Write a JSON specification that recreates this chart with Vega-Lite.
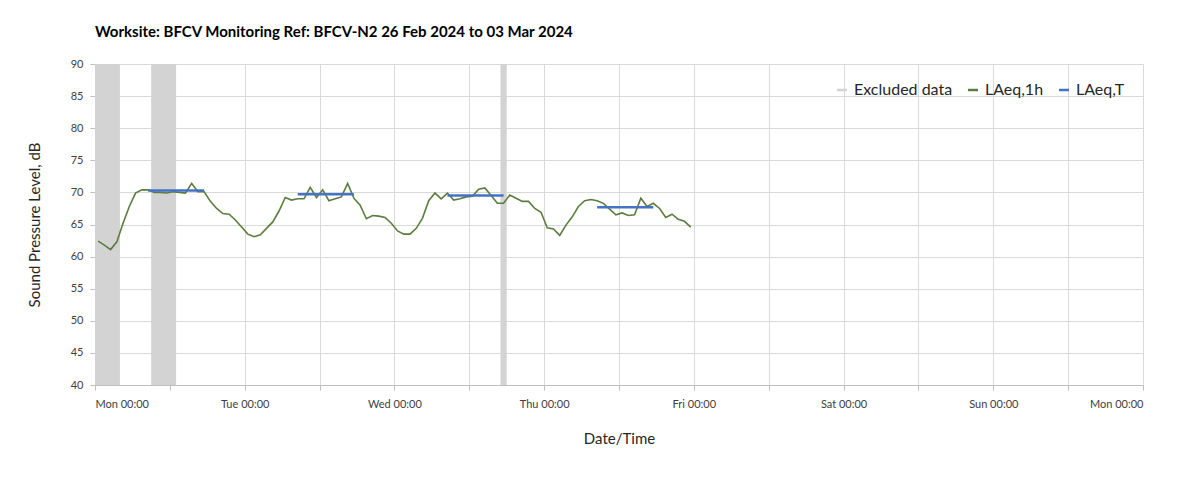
{
  "autosize": {"type": "none"},
  "padding": {"left": 95, "top": 64, "right": 57, "bottom": 94},
  "width": 1048,
  "height": 321,
  "background": "white",
  "title": {"text": "Worksite: BFCV   Monitoring Ref: BFCV-N2     26 Feb 2024 to 03 Mar 2024", "anchor": "start", "frame": "group", "fontSize": 15, "font": "Lato", "fontWeight": "bold", "color": "#000000", "offset": 18},
  "layer": [
    {
      "data": {"values": [
        {"start": "2024-02-26T00:00:00", "end": "2024-02-26T04:00:00", "series": "Excluded data"},
        {"start": "2024-02-26T09:00:00", "end": "2024-02-26T13:00:00", "series": "Excluded data"},
        {"start": "2024-02-28T17:00:00", "end": "2024-02-28T18:00:00", "series": "Excluded data"}
      ]},
      "mark": "rect",
      "encoding": {
        "x": {"field": "start", "type": "temporal", "title": "Date/Time", "scale": {"domain": [1708905600000, 1709510400000]}, "axis": {"format": "%a %H:%M", "tickCount": 14, "labelPadding": 8, "titlePadding": 22}},
        "x2": {"field": "end"},
        "color": {"field": "series", "type": "nominal", "title": null, "scale": {"domain": ["Excluded data", "LAeq,1h", "LAeq,T"], "range": ["#d3d3d3", "#5b7c3d", "#4472c4"]}, "legend": {"orient": "top-right", "direction": "horizontal", "symbolType": "stroke", "symbolStrokeWidth": 2.5, "labelFontSize": 16, "labelFont": "Lato", "labelColor": "#262626"}}
      }
    },
    {
      "data": {"values": [
      {"time": "2024-02-26T00:30:00", "value": 62.4, "series": "LAeq,1h"},
      {"time": "2024-02-26T01:30:00", "value": 61.8, "series": "LAeq,1h"},
      {"time": "2024-02-26T02:30:00", "value": 61.1, "series": "LAeq,1h"},
      {"time": "2024-02-26T03:30:00", "value": 62.3, "series": "LAeq,1h"},
      {"time": "2024-02-26T04:30:00", "value": 65.2, "series": "LAeq,1h"},
      {"time": "2024-02-26T05:30:00", "value": 67.8, "series": "LAeq,1h"},
      {"time": "2024-02-26T06:30:00", "value": 69.9, "series": "LAeq,1h"},
      {"time": "2024-02-26T07:30:00", "value": 70.4, "series": "LAeq,1h"},
      {"time": "2024-02-26T08:30:00", "value": 70.4, "series": "LAeq,1h"},
      {"time": "2024-02-26T09:30:00", "value": 70.0, "series": "LAeq,1h"},
      {"time": "2024-02-26T10:30:00", "value": 70.0, "series": "LAeq,1h"},
      {"time": "2024-02-26T11:30:00", "value": 69.9, "series": "LAeq,1h"},
      {"time": "2024-02-26T12:30:00", "value": 70.1, "series": "LAeq,1h"},
      {"time": "2024-02-26T13:30:00", "value": 70.0, "series": "LAeq,1h"},
      {"time": "2024-02-26T14:30:00", "value": 69.9, "series": "LAeq,1h"},
      {"time": "2024-02-26T15:30:00", "value": 71.4, "series": "LAeq,1h"},
      {"time": "2024-02-26T16:30:00", "value": 70.1, "series": "LAeq,1h"},
      {"time": "2024-02-26T17:30:00", "value": 70.1, "series": "LAeq,1h"},
      {"time": "2024-02-26T18:30:00", "value": 68.6, "series": "LAeq,1h"},
      {"time": "2024-02-26T19:30:00", "value": 67.5, "series": "LAeq,1h"},
      {"time": "2024-02-26T20:30:00", "value": 66.7, "series": "LAeq,1h"},
      {"time": "2024-02-26T21:30:00", "value": 66.6, "series": "LAeq,1h"},
      {"time": "2024-02-26T22:30:00", "value": 65.7, "series": "LAeq,1h"},
      {"time": "2024-02-26T23:30:00", "value": 64.6, "series": "LAeq,1h"},
      {"time": "2024-02-27T00:30:00", "value": 63.5, "series": "LAeq,1h"},
      {"time": "2024-02-27T01:30:00", "value": 63.1, "series": "LAeq,1h"},
      {"time": "2024-02-27T02:30:00", "value": 63.4, "series": "LAeq,1h"},
      {"time": "2024-02-27T03:30:00", "value": 64.4, "series": "LAeq,1h"},
      {"time": "2024-02-27T04:30:00", "value": 65.4, "series": "LAeq,1h"},
      {"time": "2024-02-27T05:30:00", "value": 67.1, "series": "LAeq,1h"},
      {"time": "2024-02-27T06:30:00", "value": 69.2, "series": "LAeq,1h"},
      {"time": "2024-02-27T07:30:00", "value": 68.8, "series": "LAeq,1h"},
      {"time": "2024-02-27T08:30:00", "value": 69.0, "series": "LAeq,1h"},
      {"time": "2024-02-27T09:30:00", "value": 69.0, "series": "LAeq,1h"},
      {"time": "2024-02-27T10:30:00", "value": 70.8, "series": "LAeq,1h"},
      {"time": "2024-02-27T11:30:00", "value": 69.2, "series": "LAeq,1h"},
      {"time": "2024-02-27T12:30:00", "value": 70.4, "series": "LAeq,1h"},
      {"time": "2024-02-27T13:30:00", "value": 68.7, "series": "LAeq,1h"},
      {"time": "2024-02-27T14:30:00", "value": 69.0, "series": "LAeq,1h"},
      {"time": "2024-02-27T15:30:00", "value": 69.3, "series": "LAeq,1h"},
      {"time": "2024-02-27T16:30:00", "value": 71.4, "series": "LAeq,1h"},
      {"time": "2024-02-27T17:30:00", "value": 69.1, "series": "LAeq,1h"},
      {"time": "2024-02-27T18:30:00", "value": 68.0, "series": "LAeq,1h"},
      {"time": "2024-02-27T19:30:00", "value": 65.9, "series": "LAeq,1h"},
      {"time": "2024-02-27T20:30:00", "value": 66.4, "series": "LAeq,1h"},
      {"time": "2024-02-27T21:30:00", "value": 66.3, "series": "LAeq,1h"},
      {"time": "2024-02-27T22:30:00", "value": 66.1, "series": "LAeq,1h"},
      {"time": "2024-02-27T23:30:00", "value": 65.2, "series": "LAeq,1h"},
      {"time": "2024-02-28T00:30:00", "value": 64.0, "series": "LAeq,1h"},
      {"time": "2024-02-28T01:30:00", "value": 63.5, "series": "LAeq,1h"},
      {"time": "2024-02-28T02:30:00", "value": 63.5, "series": "LAeq,1h"},
      {"time": "2024-02-28T03:30:00", "value": 64.4, "series": "LAeq,1h"},
      {"time": "2024-02-28T04:30:00", "value": 66.0, "series": "LAeq,1h"},
      {"time": "2024-02-28T05:30:00", "value": 68.7, "series": "LAeq,1h"},
      {"time": "2024-02-28T06:30:00", "value": 69.9, "series": "LAeq,1h"},
      {"time": "2024-02-28T07:30:00", "value": 69.0, "series": "LAeq,1h"},
      {"time": "2024-02-28T08:30:00", "value": 69.9, "series": "LAeq,1h"},
      {"time": "2024-02-28T09:30:00", "value": 68.8, "series": "LAeq,1h"},
      {"time": "2024-02-28T10:30:00", "value": 69.0, "series": "LAeq,1h"},
      {"time": "2024-02-28T11:30:00", "value": 69.3, "series": "LAeq,1h"},
      {"time": "2024-02-28T12:30:00", "value": 69.4, "series": "LAeq,1h"},
      {"time": "2024-02-28T13:30:00", "value": 70.5, "series": "LAeq,1h"},
      {"time": "2024-02-28T14:30:00", "value": 70.7, "series": "LAeq,1h"},
      {"time": "2024-02-28T15:30:00", "value": 69.5, "series": "LAeq,1h"},
      {"time": "2024-02-28T16:30:00", "value": 68.3, "series": "LAeq,1h"},
      {"time": "2024-02-28T17:30:00", "value": 68.3, "series": "LAeq,1h"},
      {"time": "2024-02-28T18:30:00", "value": 69.6, "series": "LAeq,1h"},
      {"time": "2024-02-28T19:30:00", "value": 69.1, "series": "LAeq,1h"},
      {"time": "2024-02-28T20:30:00", "value": 68.6, "series": "LAeq,1h"},
      {"time": "2024-02-28T21:30:00", "value": 68.6, "series": "LAeq,1h"},
      {"time": "2024-02-28T22:30:00", "value": 67.5, "series": "LAeq,1h"},
      {"time": "2024-02-28T23:30:00", "value": 66.9, "series": "LAeq,1h"},
      {"time": "2024-02-29T00:30:00", "value": 64.5, "series": "LAeq,1h"},
      {"time": "2024-02-29T01:30:00", "value": 64.3, "series": "LAeq,1h"},
      {"time": "2024-02-29T02:30:00", "value": 63.3, "series": "LAeq,1h"},
      {"time": "2024-02-29T03:30:00", "value": 64.9, "series": "LAeq,1h"},
      {"time": "2024-02-29T04:30:00", "value": 66.2, "series": "LAeq,1h"},
      {"time": "2024-02-29T05:30:00", "value": 67.8, "series": "LAeq,1h"},
      {"time": "2024-02-29T06:30:00", "value": 68.7, "series": "LAeq,1h"},
      {"time": "2024-02-29T07:30:00", "value": 68.9, "series": "LAeq,1h"},
      {"time": "2024-02-29T08:30:00", "value": 68.7, "series": "LAeq,1h"},
      {"time": "2024-02-29T09:30:00", "value": 68.3, "series": "LAeq,1h"},
      {"time": "2024-02-29T10:30:00", "value": 67.4, "series": "LAeq,1h"},
      {"time": "2024-02-29T11:30:00", "value": 66.5, "series": "LAeq,1h"},
      {"time": "2024-02-29T12:30:00", "value": 66.8, "series": "LAeq,1h"},
      {"time": "2024-02-29T13:30:00", "value": 66.4, "series": "LAeq,1h"},
      {"time": "2024-02-29T14:30:00", "value": 66.5, "series": "LAeq,1h"},
      {"time": "2024-02-29T15:30:00", "value": 69.1, "series": "LAeq,1h"},
      {"time": "2024-02-29T16:30:00", "value": 67.8, "series": "LAeq,1h"},
      {"time": "2024-02-29T17:30:00", "value": 68.3, "series": "LAeq,1h"},
      {"time": "2024-02-29T18:30:00", "value": 67.5, "series": "LAeq,1h"},
      {"time": "2024-02-29T19:30:00", "value": 66.1, "series": "LAeq,1h"},
      {"time": "2024-02-29T20:30:00", "value": 66.6, "series": "LAeq,1h"},
      {"time": "2024-02-29T21:30:00", "value": 65.8, "series": "LAeq,1h"},
      {"time": "2024-02-29T22:30:00", "value": 65.5, "series": "LAeq,1h"},
      {"time": "2024-02-29T23:30:00", "value": 64.6, "series": "LAeq,1h"}
      ]},
      "mark": {"type": "line", "strokeWidth": 1.6},
      "encoding": {
        "x": {"field": "time", "type": "temporal"},
        "y": {"field": "value", "type": "quantitative", "title": "Sound Pressure Level, dB", "scale": {"domain": [40, 90]}, "axis": {"labelPadding": 7, "titlePadding": 28}},
        "color": {"field": "series", "type": "nominal"}
      }
    },
    {
      "data": {"values": [
        {"time": "2024-02-26T08:30:00", "value": 70.3, "seg": "Mon", "series": "LAeq,T"},
        {"time": "2024-02-26T17:30:00", "value": 70.3, "seg": "Mon", "series": "LAeq,T"},
        {"time": "2024-02-27T08:30:00", "value": 69.7, "seg": "Tue", "series": "LAeq,T"},
        {"time": "2024-02-27T17:30:00", "value": 69.7, "seg": "Tue", "series": "LAeq,T"},
        {"time": "2024-02-28T08:30:00", "value": 69.5, "seg": "Wed", "series": "LAeq,T"},
        {"time": "2024-02-28T17:30:00", "value": 69.5, "seg": "Wed", "series": "LAeq,T"},
        {"time": "2024-02-29T08:30:00", "value": 67.7, "seg": "Thu", "series": "LAeq,T"},
        {"time": "2024-02-29T17:30:00", "value": 67.7, "seg": "Thu", "series": "LAeq,T"}
      ]},
      "mark": {"type": "line", "strokeWidth": 2.5},
      "encoding": {
        "x": {"field": "time", "type": "temporal"},
        "y": {"field": "value", "type": "quantitative"},
        "detail": {"field": "seg", "type": "nominal"},
        "color": {"field": "series", "type": "nominal"}
      }
    }
  ],
  "config": {
    "view": {"stroke": null},
    "axis": {
      "domainColor": "#bfbfbf", "tickColor": "#bfbfbf", "gridColor": "#d9d9d9", "tickSize": 5,
      "labelFont": "Lato", "labelFontSize": 11, "labelColor": "#404040",
      "titleFont": "Lato", "titleFontSize": 15, "titleFontWeight": "normal", "titleColor": "#262626"
    }
  }
}
